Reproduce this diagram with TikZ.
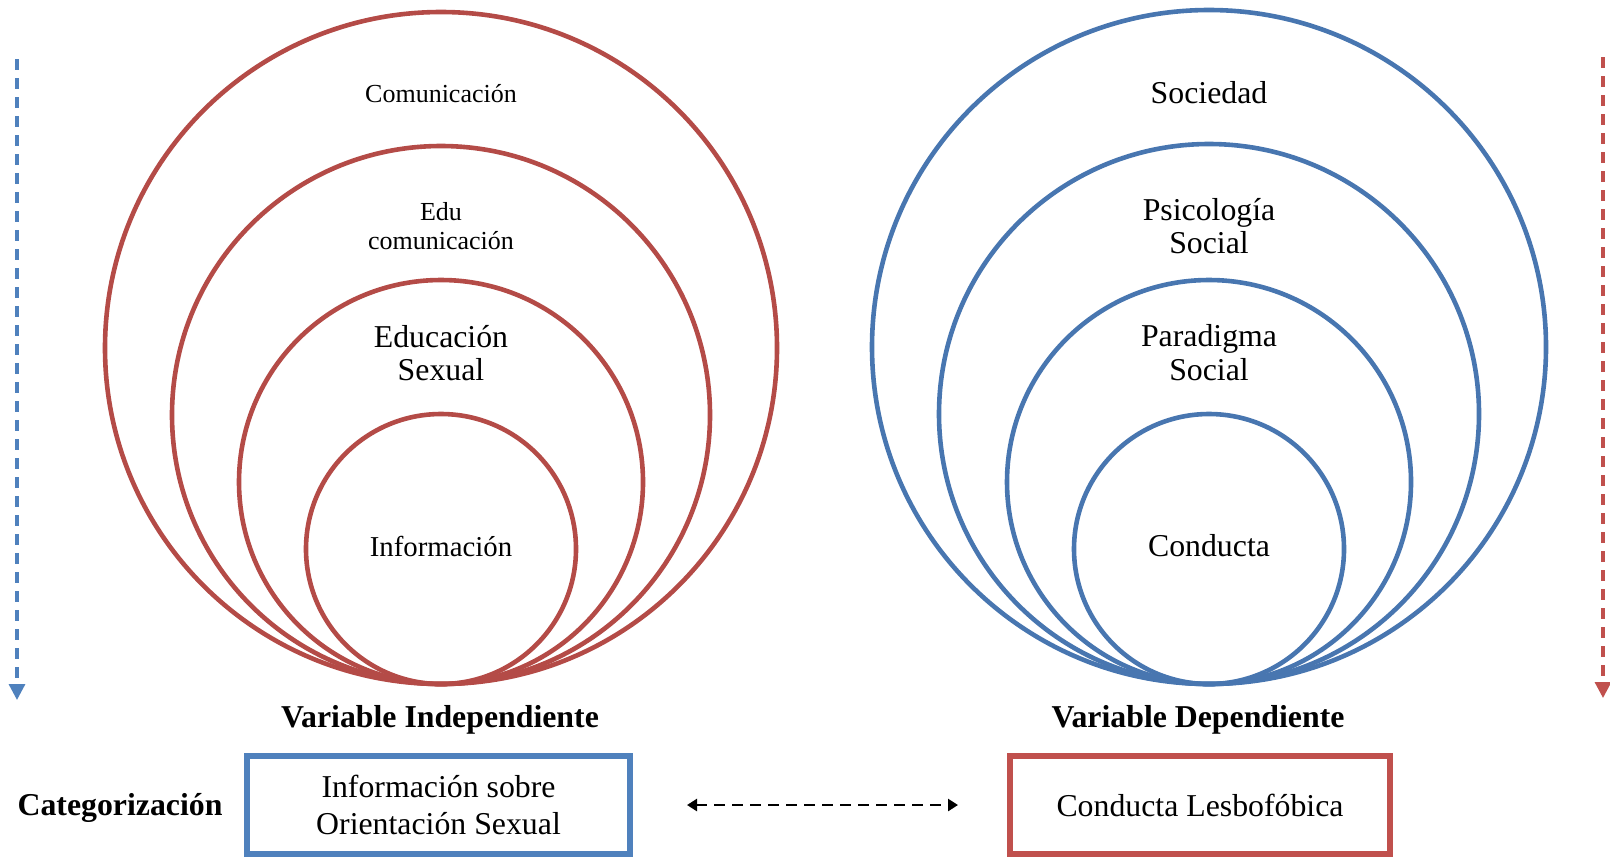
\documentclass[tikz,border=0pt]{standalone}
\usepackage{fontspec}
\setmainfont{Liberation Serif}
\usetikzlibrary{arrows.meta}
\definecolor{ringred}{RGB}{180,75,71}
\definecolor{ringblue}{RGB}{72,118,176}
\definecolor{boxred}{RGB}{192,80,77}
\definecolor{boxblue}{RGB}{79,129,189}

\begin{document}
\begin{tikzpicture}
  [x=0.5pt,y=-0.5pt,
   ring/.style={draw=#1,circle,line width=2.3pt,inner sep=0pt},
   lbl/.style={align=center,inner sep=0pt,font=\fontsize{15.9}{16.9}\selectfont},
   small/.style={align=center,inner sep=0pt,font=\fontsize{13}{14.5}\selectfont},
   bold/.style={inner sep=0pt,font=\fontsize{15.9}{16.9}\selectfont\bfseries},
   varbox/.style={draw=#1,line width=3pt,minimum height=49pt,align=center,
                  font=\fontsize{15.9}{18.5}\selectfont},
   side/.style={draw=#1,line width=1.6pt,dash pattern=on 5.5pt off 4pt,
                -{Triangle[length=8pt,width=8pt]}},
   link/.style={draw=black,line width=1.35pt,dash pattern=on 5.5pt off 3.5pt,
                {Triangle[length=5pt,width=6pt]}-{Triangle[length=5pt,width=6pt]}}]
  \useasboundingbox (0,0) rectangle (1610,859);

  % variable independiente
  \foreach \r/\n in {336/1,269/2,202/3,135/4}
    \node[ring=ringred,minimum size=\r pt] (i\n) at (441,684-\r) {};
  \node[small] (tcom) at (441,94)  {Comunicación};
  \node[small] (tedu) at (441,226) {Edu\\comunicación};
  \node[lbl]   (tsex) at (441,353) {Educación\\Sexual};
  \node[lbl,font=\fontsize{14.4}{16}\selectfont] (tinf) at (441,546) {Información};

  % variable dependiente
  \foreach \r/\n in {337/1,270/2,202/3,135/4}
    \node[ring=ringblue,minimum size=\r pt] (d\n) at (1209,684-\r) {};
  \node[lbl] (tsoc) at (1209,93)  {Sociedad};
  \node[lbl] (tpsi) at (1209,226) {Psicología\\Social};
  \node[lbl] (tpar) at (1209,353) {Paradigma\\Social};
  \node[lbl] (tcon) at (1209,546) {Conducta};

  \node[bold] (vind) at (440,720)  {Variable Independiente};
  \node[bold] (vdep) at (1198,720) {Variable Dependiente};
  \node[bold] (cat)  at (120,808)  {Categorización};

  \node[varbox=boxblue,minimum width=191.5pt] (infobox) at (438.5,805)
    {Información sobre\\Orientación Sexual};
  \node[varbox=boxred,minimum width=190pt] (condbox) at (1200,805)
    {Conducta Lesbofóbica};

  \draw[link,shorten <=27pt,shorten >=24.5pt] (infobox) -- (condbox);

  \coordinate (ltop) at (17,59);
  \coordinate (lbot) at (17,700);
  \coordinate (rtop) at (1603,57);
  \coordinate (rbot) at (1603,698);
  \draw[side=boxblue] (ltop) -- (lbot);
  \draw[side=boxred]  (rtop) -- (rbot);

\end{tikzpicture}
\end{document}
